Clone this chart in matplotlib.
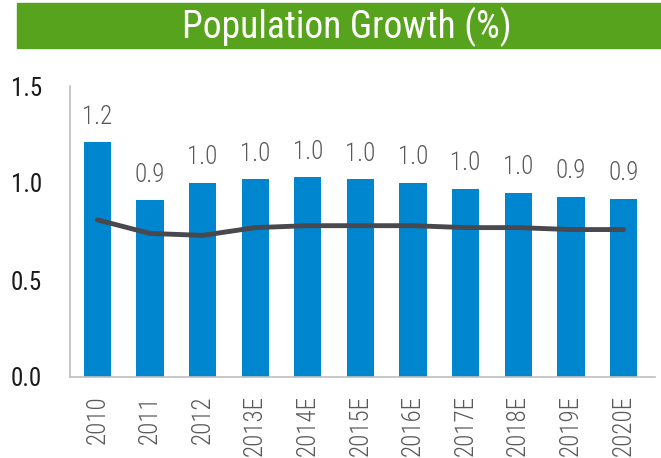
import matplotlib.pyplot as plt
from matplotlib.patches import Rectangle

years = ['2010', '2011', '2012', '2013E', '2014E', '2015E', '2016E',
         '2017E', '2018E', '2019E', '2020E']
growth = [1.21, 0.91, 1.00, 1.02, 1.03, 1.02, 1.00, 0.97, 0.95, 0.93, 0.92]
trend = [0.81, 0.74, 0.73, 0.77, 0.78, 0.78, 0.78, 0.77, 0.77, 0.76, 0.76]
labels = ['1.2', '0.9', '1.0', '1.0', '1.0', '1.0', '1.0', '1.0', '1.0', '0.9', '0.9']

plt.rcParams['font.family'] = ['Roboto Condensed', 'DejaVu Sans']
plt.rcParams['font.weight'] = 'light'

fig = plt.figure(figsize=(6.61, 4.58), dpi=100)
ax = fig.add_axes([70 / 661, 81 / 458, 585 / 661, 291 / 458])

x = list(range(len(years)))
ax.bar(x, growth, width=0.52, color='#0086CE', zorder=2)
ax.plot(x, trend, color='#48484E', lw=3.5, solid_capstyle='round', zorder=3)

for i in x:
    ax.text(i, growth[i] + 0.07, labels[i], ha='center', va='bottom',
            fontsize=18, color='#595959')

ax.set_xlim(-0.52, 10.6)
ax.set_ylim(0, 1.5)
ax.set_yticks([0, 0.5, 1.0, 1.5])
ax.set_yticklabels(['0.0', '0.5', '1.0', '1.5'], fontsize=18, color='#1a1a1a',
                   fontweight='normal')
ax.set_xticks(x)
ax.set_xticklabels(years, rotation=90, fontsize=18, color='#595959')
ax.tick_params(length=0, pad=13)
ax.tick_params(axis='y', pad=20)
for s in ['top', 'right']:
    ax.spines[s].set_visible(False)
for s in ['left', 'bottom']:
    ax.spines[s].set_color('#BFBFBF')
    ax.spines[s].set_linewidth(1.2)

# green title banner
fig.patches.append(Rectangle((17 / 661, 1 - 48 / 458), 644 / 661, 45 / 458,
                             transform=fig.transFigure, color='#57A31E'))
fig.text(347 / 661, 1 - 27 / 458, 'Population Growth (%)', ha='center', va='center',
         fontsize=27, color='white', fontweight='normal')

fig.savefig('out.png', dpi=100)
